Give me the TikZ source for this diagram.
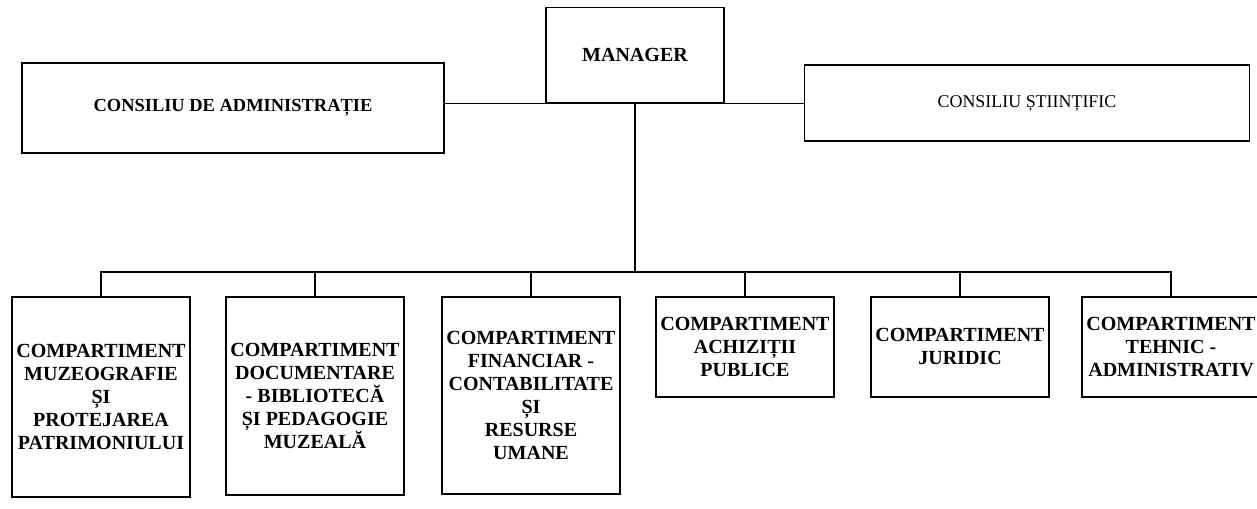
\documentclass[tikz,border=0pt]{standalone}
\usepackage{fontspec}
\setmainfont{Liberation Serif}
\usepackage{tikz}

\tikzset{
    unit/.style={draw, line width=1pt, align=center, inner sep=2pt,
        font=\bfseries\fontsize{11.4}{13}\selectfont},
    board/.style={unit, minimum width=8.5cm, minimum height=1.7cm},
    compart/.style={unit, anchor=north, minimum width=3.56cm},
    link/.style={line width=0.8pt}
}

\begin{document}
\begin{tikzpicture}[x=0.02cm, y=0.02cm]

    \useasboundingbox (0,0) rectangle (1257,508);
    \clip (0,0) rectangle (1257,508);

    % conducere
    \node[unit, minimum width=3.56cm, minimum height=1.9cm] (mgr) at (635,453) {MANAGER};
    \node[board, minimum width=8.44cm, minimum height=1.8cm,
          font=\bfseries\fontsize{10.5}{13}\selectfont] (cda) at (233,400) {CONSILIU DE ADMINISTRAȚIE};
    \node[board, minimum width=8.9cm, minimum height=1.52cm,
          font=\fontsize{10.2}{13}\selectfont] (csf) at (1027,405) {CONSILIU ȘTIINȚIFIC};

    % compartimente
    \node[compart, minimum height=4cm] (muz) at (101,212)
        {COMPARTIMENT\\MUZEOGRAFIE\\ȘI\\PROTEJAREA\\PATRIMONIULUI};
    \node[compart, minimum height=3.96cm] (doc) at (315,212)
        {COMPARTIMENT\\DOCUMENTARE\\- BIBLIOTECĂ\\ȘI PEDAGOGIE\\MUZEALĂ};
    \node[compart, minimum height=3.94cm] (fin) at (531,212)
        {COMPARTIMENT\\FINANCIAR -\\CONTABILITATE\\ȘI\\RESURSE\\UMANE};
    \node[compart, minimum height=2cm] (ach) at (745,212)
        {COMPARTIMENT\\ACHIZIȚII\\PUBLICE};
    \node[compart, minimum height=2cm] (jur) at (960,212)
        {COMPARTIMENT\\JURIDIC};
    \node[compart, minimum height=2cm] (teh) at (1171,212)
        {COMPARTIMENT\\TEHNIC -\\ADMINISTRATIV};

    \coordinate (bus) at (635,236);

    % legaturi
    \draw[link] (cda.east |- mgr.south) -- (csf.west |- mgr.south);
    \draw[link] (mgr.south) -- (bus);
    \draw[link] (muz.north) |- (bus) -| (teh.north);
    \draw[link] (doc.north) -- (doc.north |- bus);
    \draw[link] (fin.north) -- (fin.north |- bus);
    \draw[link] (ach.north) -- (ach.north |- bus);
    \draw[link] (jur.north) -- (jur.north |- bus);

\end{tikzpicture}
\end{document}
